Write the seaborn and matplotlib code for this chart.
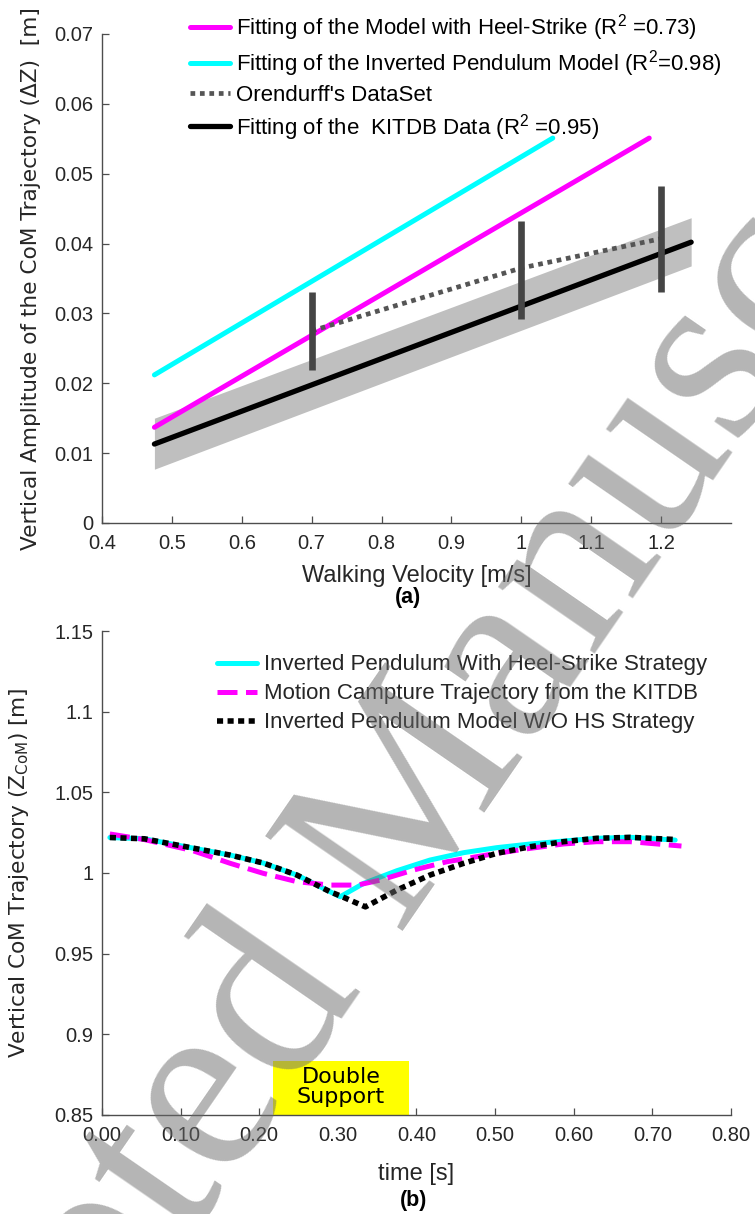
import numpy as np
import pandas as pd
import matplotlib
matplotlib.use("Agg")
import matplotlib.pyplot as plt
import seaborn as sns

# ---------------- data (a) ----------------
hs_fit_x = [0.475, 1.183]
hs_fit_y = [0.0137, 0.0551]
ip_fit_x = [0.475, 1.045]
ip_fit_y = [0.0212, 0.0551]
kit_fit_x = [0.475, 1.243]
kit_fit_y = [0.0113, 0.0402]
kit_band_lo = [0.0077, 0.0368]
kit_band_hi = [0.0150, 0.0437]
oren_x = [0.7, 1.0, 1.2]
oren_y = [0.0275, 0.0365, 0.0407]
oren_lo = [0.0219, 0.0292, 0.0330]
oren_hi = [0.0330, 0.0432, 0.0483]

a_xticks = [0.4, 0.5, 0.6, 0.7, 0.8, 0.9, 1.0, 1.1, 1.2]
a_xticklabels = ["0.4", "0.5", "0.6", "0.7", "0.8", "0.9", "1", "1.1", "1.2"]
a_yticks = [0, 0.01, 0.02, 0.03, 0.04, 0.05, 0.06, 0.07]
a_yticklabels = ["0", "0.01", "0.02", "0.03", "0.04", "0.05", "0.06", "0.07"]

# ---------------- data (b) ----------------
ip_hs_t = [0.010, 0.054, 0.115, 0.163, 0.205, 0.248, 0.290, 0.303, 0.333,
           0.375, 0.417, 0.460, 0.502, 0.545, 0.587, 0.629, 0.672, 0.729]
ip_hs_z = [1.0220, 1.0212, 1.0155, 1.0111, 1.0062, 0.9987, 0.9884, 0.9853,
           0.9936, 1.0014, 1.0080, 1.0126, 1.0157, 1.0180, 1.0198, 1.0215,
           1.0221, 1.0204]
kit_t = [0.010, 0.054, 0.115, 0.163, 0.205, 0.248, 0.290, 0.325, 0.354,
         0.396, 0.439, 0.502, 0.545, 0.587, 0.629, 0.672, 0.737]
kit_z = [1.0242, 1.0207, 1.0139, 1.0060, 0.9998, 0.9946, 0.9925, 0.9925,
         0.9956, 1.0018, 1.0070, 1.0122, 1.0153, 1.0180, 1.0194, 1.0194, 1.0167]
ip_t = [0.010, 0.054, 0.115, 0.163, 0.205, 0.248, 0.290, 0.303, 0.335,
        0.375, 0.417, 0.460, 0.502, 0.545, 0.587, 0.629, 0.672, 0.727]
ip_z = [1.0220, 1.0212, 1.0155, 1.0111, 1.0062, 0.9987, 0.9884, 0.9858,
        0.9790, 0.9894, 0.9987, 1.0060, 1.0122, 1.0163, 1.0194, 1.0215,
        1.0221, 1.0208]
ds_span = [0.218, 0.390]
ds_height = [0.85, 0.8836]

b_xticks = [0.0, 0.1, 0.2, 0.3, 0.4, 0.5, 0.6, 0.7, 0.8]
b_xticklabels = ["0.00", "0.10", "0.20", "0.30", "0.40", "0.50", "0.60", "0.70", "0.80"]
b_yticks = [0.85, 0.9, 0.95, 1.0, 1.05, 1.1, 1.15]
b_yticklabels = ["0.85", "0.9", "0.95", "1", "1.05", "1.1", "1.15"]

# ---------------- style ----------------
sns.set_theme(style="white")
plt.rcParams["font.family"] = ["Liberation Sans", "DejaVu Sans"]
plt.rcParams["mathtext.fontset"] = "custom"
plt.rcParams["mathtext.rm"] = "Liberation Sans"
plt.rcParams["mathtext.it"] = "Liberation Sans:italic"
plt.rcParams["mathtext.sf"] = "DejaVu Sans"

AX = "#262626"
SPINE = "#4d4d4d"
fig = plt.figure(figsize=(7.55, 12.14), dpi=100)
ax1 = fig.add_axes([0.1351, 0.5692, 0.8331, 0.4028])
ax2 = fig.add_axes([0.1351, 0.0816, 0.8331, 0.3986])


def style_axes(ax):
    for s in ["top", "right"]:
        ax.spines[s].set_visible(False)
    for s in ["left", "bottom"]:
        ax.spines[s].set_color(SPINE)
        ax.spines[s].set_linewidth(1.0)
    ax.tick_params(direction="in", length=5, width=0.9, color=SPINE,
                   labelcolor=AX, labelsize=14.5, left=True, bottom=True)
    ax.tick_params(axis="x", pad=8)
    ax.tick_params(axis="y", pad=6)
    ax.grid(False)


# ---------- panel (a) ----------
ax1.fill_between(kit_fit_x, kit_band_lo, kit_band_hi, color="#bfbfbf", lw=0, zorder=1)
sns.lineplot(x=hs_fit_x, y=hs_fit_y, ax=ax1, color="#ff00ff", lw=3.6,
             label="Fitting of the Model with Heel-Strike (R$^2$ =0.73)", zorder=3)
sns.lineplot(x=ip_fit_x, y=ip_fit_y, ax=ax1, color="#00ffff", lw=3.6,
             label="Fitting of the Inverted Pendulum Model (R$^{2}$=0.98)", zorder=3)
sns.lineplot(x=oren_x, y=oren_y, ax=ax1, color="#555555", lw=3.4,
             linestyle=(0, (1.0, 1.0)), label="Orendurff's DataSet", zorder=4)
sns.lineplot(x=kit_fit_x, y=kit_fit_y, ax=ax1, color="black", lw=3.8,
             label="Fitting of the  KITDB Data (R$^2$ =0.95)", zorder=4)
ax1.vlines(oren_x, oren_lo, oren_hi, color="#454545", lw=4.8, zorder=5)

ax1.set_xlim(0.4, 1.3)
ax1.set_ylim(0, 0.07)
ax1.set_xticks(a_xticks)
ax1.set_xticklabels(a_xticklabels)
ax1.set_yticks(a_yticks)
ax1.set_yticklabels(a_yticklabels)
style_axes(ax1)
ax1.set_xlabel("Walking Velocity [m/s]", fontsize=17, color=AX, va="center")
ax1.xaxis.set_label_coords(0.5, -0.108)
ax1.set_ylabel("Vertical Amplitude of the CoM Trajectory (ΔZ)  [m]",
               fontsize=15.6, color=AX, family="DejaVu Sans", va="center")
ax1.yaxis.set_label_coords(-0.113, 0.5)
ax1.text(0.487, -0.153, "(a)", transform=ax1.transAxes, ha="center", va="center",
         fontsize=15.5, fontweight="bold", color="black")
leg1 = ax1.legend(loc="upper left", bbox_to_anchor=(0.252, 0.990),
                  bbox_transform=fig.transFigure, frameon=False, fontsize=16,
                  handlelength=1.8, handletextpad=0.25, labelspacing=0.25,
                  borderpad=0, borderaxespad=0)
for t in leg1.get_texts():
    t.set_color("black")

# ---------- panel (b) ----------
ax2.fill_between(ds_span, [ds_height[0]] * 2, [ds_height[1]] * 2,
                 color="#ffff00", lw=0, zorder=1)
ax2.text(np.mean(ds_span), np.mean(ds_height) + 0.0005, "Double\nSupport",
         ha="center", va="center", fontsize=16, family="DejaVu Sans",
         color="black", linespacing=0.95, zorder=6)
sns.lineplot(x=ip_hs_t, y=ip_hs_z, ax=ax2, color="#00ffff", lw=3.6,
             label="Inverted Pendulum With Heel-Strike Strategy", zorder=3)
sns.lineplot(x=kit_t, y=kit_z, ax=ax2, color="#ff00ff", lw=3.6,
             linestyle=(0, (4.0, 1.7)),
             label="Motion Campture Trajectory from the KITDB", zorder=4)
sns.lineplot(x=ip_t, y=ip_z, ax=ax2, color="black", lw=4.0,
             linestyle=(0, (1.1, 0.8)),
             label="Inverted Pendulum Model W/O HS Strategy", zorder=5)

ax2.set_xlim(0, 0.8)
ax2.set_ylim(0.85, 1.15)
ax2.set_xticks(b_xticks)
ax2.set_xticklabels(b_xticklabels)
ax2.set_yticks(b_yticks)
ax2.set_yticklabels(b_yticklabels)
style_axes(ax2)
ax2.set_xlabel("time [s]", fontsize=17, color=AX, va="center")
ax2.xaxis.set_label_coords(0.5, -0.122)
ax2.set_ylabel("Vertical CoM Trajectory ($\\mathsf{Z_{CoM}}$) [m]",
               fontsize=15.6, color=AX, family="DejaVu Sans", va="center")
ax2.yaxis.set_label_coords(-0.132, 0.5)
ax2.text(0.495, -0.176, "(b)", transform=ax2.transAxes, ha="center", va="center",
         fontsize=15.5, fontweight="bold", color="black")
leg2 = ax2.legend(loc="upper left", bbox_to_anchor=(0.287, 0.461),
                  bbox_transform=fig.transFigure, frameon=False, fontsize=16,
                  handlelength=1.8, handletextpad=0.35, labelspacing=0.36,
                  borderpad=0, borderaxespad=0)

# ---------- watermark ----------
fig.text(0.580, 0.2743, "Accepted Manuscript", rotation=55.4, rotation_mode="anchor",
         ha="center", va="baseline", fontsize=183, family="Liberation Serif",
         color="0.42", alpha=0.5, zorder=100)

fig.savefig("out.png", dpi=100)
